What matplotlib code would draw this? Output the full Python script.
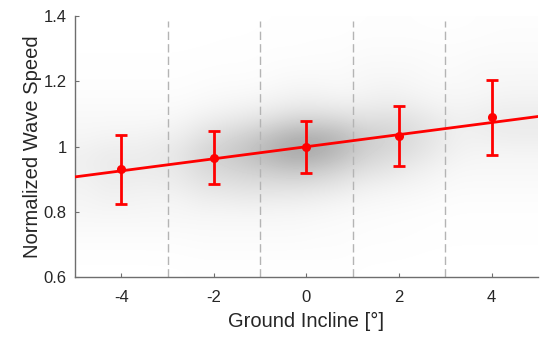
import numpy as np
import matplotlib
matplotlib.use("Agg")
import matplotlib.pyplot as plt
from matplotlib.colors import LinearSegmentedColormap

plt.rcParams['font.family'] = ['Liberation Sans', 'DejaVu Sans']

# binned means and spread (error bars)
incline_bins = [-4, -2, 0, 2, 4]
speed_mean = [0.930, 0.966, 0.998, 1.033, 1.090]
speed_err = [0.105, 0.082, 0.080, 0.092, 0.115]

# linear fit: speed = intercept + slope * incline
fit_intercept = 0.9995
fit_slope = 0.0185

# bin boundaries (dashed lines)
bin_edges = [-3, -1, 1, 3]

# density of the raw samples, read off as darkness (0-100)
# columns: incline -5..5 in steps of 0.5, rows: speed 0.6..1.4 in steps of 0.05 (bottom row first)
density = np.array([
    # -4.75 -4.25 -3.75 -3.25 -2.75 -2.25 -1.75 -1.25 -0.75 -0.25 0.25 0.75 1.25 1.75 2.25 2.75 3.25 3.75 4.25 4.75
    [0.3, 0.3, 0.3, 0.3, 0.3, 0.5, 0.5, 0.5, 0.5, 0.5, 0.5, 0.5, 0.3, 0.3, 0.3, 0.3, 0.2, 0.2, 0.2, 0.2],  # 0.625
    [0.6, 0.6, 0.6, 0.6, 0.8, 1.0, 1.0, 1.0, 1.0, 1.0, 1.0, 1.0, 0.6, 0.5, 0.4, 0.3, 0.3, 0.3, 0.3, 0.3],  # 0.675
    [1.5, 1.5, 1.5, 1.5, 1.5, 2.0, 2.0, 2.0, 2.0, 2.0, 1.5, 1.5, 1.0, 1.0, 0.8, 0.6, 0.5, 0.5, 0.5, 0.5],  # 0.725
    [3.0, 3.0, 3.0, 3.0, 3.0, 3.0, 3.0, 3.0, 3.0, 3.0, 2.5, 2.0, 1.5, 1.2, 1.0, 0.8, 0.6, 0.6, 0.6, 0.6],  # 0.775
    [4.0, 5.0, 4.5, 4.0, 4.0, 6.0, 6.0, 7.0, 6.0, 6.0, 5.0, 4.0, 3.0, 2.5, 2.0, 1.5, 1.0, 1.0, 1.0, 1.0],  # 0.825
    [5.0, 7.0, 6.0, 6.0, 7.0, 10., 11., 12., 12., 12., 11., 9.0, 6.0, 5.0, 4.0, 3.0, 2.0, 2.0, 2.0, 2.0],  # 0.875
    [6.0, 8.0, 8.0, 8.0, 9.0, 14., 16., 18., 20., 22., 20., 16., 12., 10., 7.0, 5.0, 3.0, 3.0, 3.0, 3.0],  # 0.925
    [6.0, 8.0, 7.0, 8.0, 10., 16., 20., 24., 30., 34., 32., 26., 18., 15., 12., 8.0, 5.0, 4.0, 4.0, 4.0],  # 0.975
    [4.0, 5.0, 5.0, 6.0, 7.0, 12., 16., 20., 26., 32., 32., 28., 20., 18., 14., 10., 6.0, 6.0, 7.0, 7.0],  # 1.025
    [3.0, 3.0, 3.0, 3.0, 4.0, 7.0, 9.0, 11., 14., 18., 18., 16., 13., 14., 12., 9.0, 6.0, 7.0, 8.0, 8.0],  # 1.075
    [2.0, 2.0, 2.0, 2.0, 2.0, 3.0, 4.0, 5.0, 6.0, 8.0, 8.0, 7.0, 7.0, 8.0, 7.0, 5.0, 4.0, 5.0, 6.0, 6.0],  # 1.125
    [1.0, 1.0, 1.0, 1.0, 1.0, 1.5, 2.0, 2.0, 3.0, 4.0, 4.0, 3.0, 4.0, 5.0, 4.0, 3.0, 3.0, 3.0, 4.0, 4.0],  # 1.175
    [0.6, 0.6, 0.6, 0.6, 0.6, 0.8, 1.0, 1.0, 1.5, 2.0, 2.0, 2.0, 3.0, 3.0, 3.0, 2.0, 2.0, 3.0, 3.0, 3.0],  # 1.225
    [0.4, 0.4, 0.4, 0.4, 0.4, 0.5, 0.6, 0.6, 1.0, 1.0, 1.2, 1.2, 2.0, 2.0, 2.0, 1.5, 1.5, 2.0, 2.0, 2.0],  # 1.275
    [0.3, 0.3, 0.3, 0.3, 0.3, 0.3, 0.4, 0.4, 0.6, 0.6, 0.8, 0.8, 1.2, 1.2, 1.2, 1.0, 1.0, 1.2, 1.5, 1.5],  # 1.325
    [0.2, 0.2, 0.2, 0.2, 0.2, 0.2, 0.3, 0.3, 0.4, 0.4, 0.5, 0.5, 0.8, 0.8, 0.8, 0.6, 0.6, 0.8, 1.0, 1.0],  # 1.375
])

xlim = (-5, 5)
ylim = (0.6, 1.4)
axis_gray = '#6e6e6e'
text_gray = '#262626'

fig = plt.figure(figsize=(5.5, 3.4), dpi=100)
ax = fig.add_axes([0.1364, 0.185, 0.8416, 0.768])

# sample cloud
cloud_cmap = LinearSegmentedColormap.from_list('cloud', ['white', 'black'])
ax.imshow(density, extent=(xlim[0], xlim[1], ylim[0], ylim[1]), origin='lower',
          aspect='auto', cmap=cloud_cmap, vmin=0, vmax=100,
          interpolation='bicubic', zorder=0)

# bin boundaries
ax.vlines(bin_edges, ylim[0], 1.385, colors='#b4b4b4', linestyles=(0, (6, 3)),
          linewidth=1.0, zorder=1)

# fit line
fit_x = np.array(xlim)
ax.plot(fit_x, fit_intercept + fit_slope * fit_x, color='#ff0000', lw=2.0, zorder=3)

# binned means
ax.errorbar(incline_bins, speed_mean, yerr=speed_err, fmt='o', color='#ff0000',
            ms=5.5, elinewidth=2.0, capsize=4, capthick=2.0, zorder=4)

ax.set_xlim(*xlim)
ax.set_ylim(*ylim)
ax.set_xticks([-4, -2, 0, 2, 4])
ax.set_xticklabels(['-4', '-2', '0', '2', '4'])
ax.set_yticks([0.6, 0.8, 1.0, 1.2, 1.4])
ax.set_yticklabels(['0.6', '0.8', '1', '1.2', '1.4'])

for side in ['top', 'right']:
    ax.spines[side].set_visible(False)
for side in ['left', 'bottom']:
    ax.spines[side].set_color(axis_gray)
    ax.spines[side].set_linewidth(1.0)
ax.tick_params(direction='in', length=3, width=0.8, color=axis_gray,
               labelsize=12, labelcolor=text_gray)
ax.tick_params(axis='x', pad=9)
ax.tick_params(axis='y', pad=6)

ax.set_xlabel('Ground Incline [°]', fontsize=14.5, color=text_gray, labelpad=5)
ax.set_ylabel('Normalized Wave Speed', fontsize=14.5, color=text_gray, labelpad=1)

fig.savefig('out.png', dpi=100)
